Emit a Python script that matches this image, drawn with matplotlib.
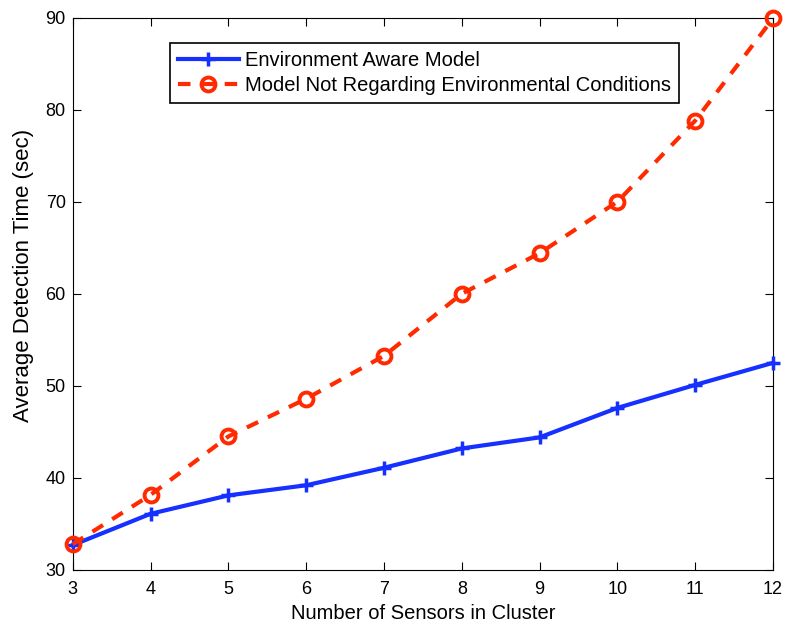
import numpy as np
import matplotlib
matplotlib.use('Agg')
import matplotlib.pyplot as plt

plt.rcParams['font.family'] = ['Liberation Sans', 'DejaVu Sans']

sensors = [3, 4, 5, 6, 7, 8, 9, 10, 11, 12]
env_aware = [32.7, 36.1, 38.1, 39.2, 41.1, 43.2, 44.4, 47.6, 50.1, 52.5]
not_regarding = [32.8, 38.15, 44.5, 48.6, 53.25, 60.0, 64.4, 70.0, 78.8, 89.9]

fig = plt.figure(figsize=(7.88, 6.26), dpi=100)
ax = fig.add_axes([0.0923, 0.0895, 0.8887, 0.8825])

blue = '#1530ff'
red = '#ff2a00'

ax.plot(sensors, env_aware, color=blue, lw=3, marker='+', markersize=10,
        markeredgewidth=2.5, clip_on=False, zorder=3,
        label='Environment Aware Model')
ax.plot(sensors, not_regarding, color=red, lw=3, linestyle=(0, (3, 2.6)),
        marker='o', markersize=10, markerfacecolor='none',
        markeredgewidth=2.8, clip_on=False, zorder=4,
        label='Model Not Regarding Environmental Conditions')

ax.set_xlim(3, 12)
ax.set_ylim(30, 90)
ax.set_xticks(range(3, 13))
ax.set_yticks(range(30, 91, 10))
ax.tick_params(direction='in', top=True, right=True, labelsize=13, length=6)
ax.tick_params(axis='x', pad=8)
ax.tick_params(axis='y', pad=5)
ax.set_xlabel('Number of Sensors in Cluster', fontsize=14.5, labelpad=4)
ax.set_ylabel('Average Detection Time (sec)', fontsize=16)
ax.yaxis.set_label_coords(-0.056, 0.534)

leg = ax.legend(loc='upper left', bbox_to_anchor=(0.139, 0.954), fontsize=14.5,
                fancybox=False, edgecolor='black', borderaxespad=0,
                handlelength=3, handletextpad=0.3, labelspacing=0.3,
                framealpha=1)
leg.get_frame().set_linewidth(1.2)

fig.savefig('out.png', dpi=100)
